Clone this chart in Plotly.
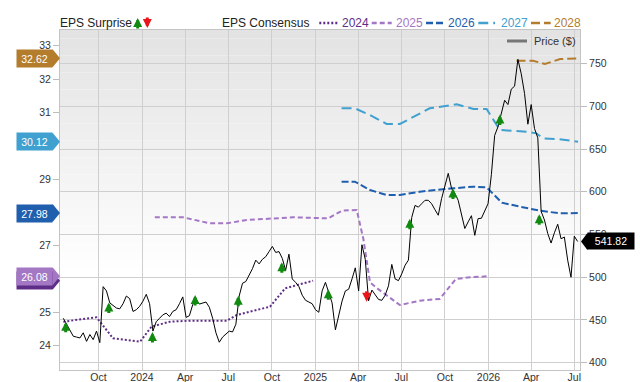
import plotly.graph_objects as go
import pandas as pd

# ---------------- data ----------------
price_start = "2023-07-19"  # weekly closes
price = [452,445,439,431,430,429,435,425,433,427,
         437,423.5,489,484,470,467,464,463,469,478,
         475,460,462,466,472,480,469,437,448,452,
         456,458,454,460,462,469,477,453,455,468,
         474,468.6,470,471,465,452,435,424,430,434,
         437,436,445,478,493,495,502,510,520,515.6,
         521,524,530,536,529,530,522,508,527,498,
         494,489,479,473,471,469,462,459,484,494,
         482,470,438.5,455,472,484,486,498,511,484,
         538,521,472.5,485,479,474,473,479,490,515,
         498,496,504,514,520,570,584,582,586,590,
         590,586,579,572.5,592,608,621.5,604,598,590,
         575,557,564.7,572,549,568.6,569,578,586,620,
         666,676,690,707,702,720,723.5,754.9,738,715,
         679,702,674,663,577,567,551,540,552,562,
         545,547,520,500,548,541.82]
price_dates = pd.date_range(price_start, periods=len(price), freq="7D")

eps2024_dates = ["2023-07-19","2023-09-27","2023-11-01","2023-12-28","2024-01-21","2024-02-29",
                 "2024-04-11","2024-06-28","2024-07-19","2024-09-27","2024-10-29","2024-11-26","2024-12-27"]
eps2024 = [24.72,24.85,24.22,24.12,24.57,24.72,24.75,24.75,24.92,25.17,25.72,25.82,25.95]

eps2025_dates = ["2024-01-28","2024-03-28","2024-05-23","2024-06-28","2024-08-09","2024-11-15",
                 "2025-01-28","2025-02-26","2025-03-29","2025-04-12","2025-04-26","2025-05-11",
                 "2025-06-28","2025-08-09","2025-09-20","2025-10-24","2025-11-23","2025-12-29"]
eps2025 = [27.85,27.85,27.67,27.67,27.77,27.85,27.82,28.05,28.07,27.2,25.9,25.72,
           25.22,25.35,25.40,26.0,26.05,26.08]

eps2026_dates = ["2025-02-25","2025-03-25","2025-04-26","2025-05-31","2025-06-28","2025-08-09",
                 "2025-10-18","2025-11-30","2025-12-28","2026-01-29","2026-03-08","2026-04-19",
                 "2026-06-01","2026-07-09"]
eps2026 = [28.92,28.92,28.67,28.52,28.52,28.62,28.72,28.77,28.75,28.29,28.17,28.05,27.97,27.98]

eps2027_dates = ["2025-02-25","2025-03-25","2025-04-26","2025-05-31","2025-06-28","2025-08-30",
                 "2025-10-26","2025-11-30","2025-12-28","2026-01-25","2026-03-22","2026-04-12",
                 "2026-04-26","2026-05-25","2026-07-09"]
eps2027 = [31.12,31.12,30.92,30.65,30.65,31.12,31.24,31.10,31.10,30.47,30.42,30.37,30.22,30.20,30.12]

eps2028_dates = ["2026-03-01","2026-04-05","2026-04-30","2026-06-01","2026-07-09"]
eps2028 = [32.55,32.55,32.45,32.60,32.62]

surprise_dates = ["2023-07-24","2023-10-23","2024-01-23","2024-04-22","2024-07-22","2024-10-22",
                  "2025-01-28","2025-04-19","2025-07-19","2025-10-18","2026-01-25","2026-04-18"]
surprise_price = [442,464.7,430.2,473.3,472.6,511.8,480,477.3,562.7,598,684.4,567.9]
surprise_dir = ["up","up","up","up","up","up","up","down","up","up","up","up"]

x_tickvals = ["2023-10-01","2024-01-01","2024-04-01","2024-07-01","2024-10-01","2025-01-01",
              "2025-04-01","2025-07-01","2025-10-01","2026-01-01","2026-04-01","2026-07-01"]
x_ticktext = ["Oct","2024","Apr","Jul","Oct","2025","Apr","Jul","Oct","2026","Apr","Jul"]
left_ticks = [24,25,27,29,31,32,33]
right_ticks = [400,450,500,550,600,650,700,750]

series_names = ["2024","2025","2026","2027","2028"]
series_colors = ["#5e2d88","#a477c4","#1f5fae","#40a0d0","#b47c2d"]
series_dash = ["2px,2px","5px,3px","7px,3px","10px,5px","9px,4px"]

# ---------------- layout helpers ----------------
W, H = 640, 382
ML, MR, MT, MB = 60, 60, 30, 12
PW, PH = W - ML - MR, H - MT - MB
def px(x):
    return (x - ML) / PW
def py(y):
    return (H - MB - y) / PH

FONT = "Liberation Sans, Arial, sans-serif"
GREEN, RED = "#128a12", "#e8161b"
ARW = dict(arrowhead=2, arrowsize=0.6, arrowwidth=3, standoff=0, text="", showarrow=True,
           font=dict(size=1), borderpad=0)
fig = go.Figure()

eps_sets = [(eps2024_dates, eps2024), (eps2025_dates, eps2025), (eps2026_dates, eps2026),
            (eps2027_dates, eps2027), (eps2028_dates, eps2028)]
for (d, v), name, col, dash in zip(eps_sets, series_names, series_colors, series_dash):
    fig.add_trace(go.Scatter(x=d, y=v, mode="lines", name=name, yaxis="y",
                             line=dict(color=col, width=2, dash=dash), hoverinfo="skip",
                             showlegend=False))

fig.add_trace(go.Scatter(x=price_dates, y=price, mode="lines", yaxis="y2", name="Price ($)",
                         line=dict(color="#000000", width=1), showlegend=False, hoverinfo="skip"))

shapes = []
annotations = []

# gradient background of the plot area
N = 40
for k in range(N):
    t = (k + 0.5) / N
    f = min(1.0, t / 0.72)
    c = int(round(0xe3 + (0xff - 0xe3) * f))
    shapes.append(dict(type="rect", xref="x domain", yref="y domain", x0=0, x1=1,
                       y0=1 - (k + 1) / N, y1=1 - k / N, fillcolor=f"rgb({c},{c},{c})",
                       line=dict(width=0), layer="below"))

# surprise arrows
for d, p, s in zip(surprise_dates, surprise_price, surprise_dir):
    up = s == "up"
    annotations.append(dict(x=d, y=p, xref="x", yref="y2", arrowcolor=GREEN if up else RED,
                            ax=0, ay=11 if up else -11, yshift=5 if up else -5, **ARW))

# left value labels (last EPS values)
for i in range(len(eps_sets)):
    v = eps_sets[i][1][-1]
    shapes.append(dict(type="path", xref="paper", yref="y", xsizemode="pixel", ysizemode="pixel",
                       xanchor=0, yanchor=v,
                       path="M -8,-8.5 L -7,-8.5 L 0,0 L -7,8.5 L -8,8.5 Z",
                       fillcolor=series_colors[i], line=dict(width=0), layer="above"))
    annotations.append(dict(x=0, y=v, xref="paper", yref="y", text=f"{v:.2f}", showarrow=False,
                            xanchor="right", yanchor="middle", xshift=-7, width=35, height=17,
                            borderpad=0, bgcolor=series_colors[i], align="center",
                            font=dict(family=FONT, size=10.5, color="white")))

# right price label
pv = price[-1]
shapes.append(dict(type="path", xref="paper", yref="y2", xsizemode="pixel", ysizemode="pixel",
                   xanchor=1, yanchor=pv,
                   path="M 1,0 L 7,-8 L 8,-8 L 8,8 L 7,8 Z",
                   fillcolor="#000000", line=dict(width=0), layer="above"))
annotations.append(dict(x=1, y=pv, xref="paper", yref="y2", text=f"{pv:.2f}", showarrow=False,
                        xanchor="left", yanchor="middle", xshift=7, width=46, height=16,
                        borderpad=0, bgcolor="#000000", align="center",
                        font=dict(family=FONT, size=10.5, color="white")))

# price legend (inside, top right)
shapes.append(dict(type="line", xref="paper", yref="paper", x0=px(507), x1=px(527),
                   y0=py(41), y1=py(41), line=dict(color="#777777", width=3), layer="above"))
annotations.append(dict(x=px(532), y=py(41), xref="paper", yref="paper", text="Price ($)",
                        showarrow=False, xanchor="left", yanchor="middle",
                        font=dict(family=FONT, size=11, color="#333333")))

# top legend
LY = py(23)
annotations.append(dict(x=px(60), y=LY, xref="paper", yref="paper", text="EPS Surprise",
                        showarrow=False, xanchor="left", yanchor="middle", xshift=-2,
                        font=dict(family=FONT, size=12, color="#222222")))
annotations.append(dict(x=px(137.7), y=LY, xref="paper", yref="paper", arrowcolor=GREEN,
                        ax=0, ay=11, yshift=5, **ARW))
annotations.append(dict(x=px(147.3), y=LY, xref="paper", yref="paper", arrowcolor=RED,
                        ax=0, ay=-11, yshift=-5, **ARW))
annotations.append(dict(x=px(221.7), y=LY, xref="paper", yref="paper", text="EPS Consensus",
                        showarrow=False, xanchor="left", yanchor="middle", xshift=-2,
                        font=dict(family=FONT, size=12, color="#222222")))
sample_x = [(319.3, 337.3, 341.7), (371.7, 391.7, 395.7), (426, 445, 448.3),
            (478.3, 495, 500.7), (531, 550.7, 554)]
for (x0, x1, xt), name, col, dash in zip(sample_x, series_names, series_colors, series_dash):
    shapes.append(dict(type="line", xref="paper", yref="paper", x0=px(x0), x1=px(x1),
                       y0=LY, y1=LY, line=dict(color=col, width=2.5, dash=dash)))
    annotations.append(dict(x=px(xt), y=LY, xref="paper", yref="paper", text=name,
                            showarrow=False, xanchor="left", yanchor="middle", xshift=-2,
                            font=dict(family=FONT, size=12, color=col)))

fig.update_layout(
    width=W, height=H,
    margin=dict(l=ML, r=MR, t=MT, b=MB, pad=0, autoexpand=False),
    paper_bgcolor="white", plot_bgcolor="rgba(0,0,0,0)",
    font=dict(family=FONT, size=10.5, color="#333333"),
    showlegend=False,
    xaxis=dict(type="date", range=["2023-07-12", "2026-07-13"], tickvals=x_tickvals,
               ticktext=x_ticktext, showgrid=True, gridcolor="#cfcfcf", gridwidth=1,
               showline=True, linecolor="#c4c4c4", linewidth=1, mirror=True, automargin=False,
               ticks="", zeroline=False, ticklabelstandoff=-3,
               tickfont=dict(size=10.5, color="#333333")),
    yaxis=dict(range=[23.27, 33.47], tickvals=left_ticks, showgrid=False, zeroline=False,
               ticks="outside", ticklen=6, tickcolor="#bdbdbd", showline=True, automargin=False,
               linecolor="#c4c4c4", linewidth=1, tickfont=dict(size=10.5, color="#333333")),
    yaxis2=dict(range=[391.5, 789.2], overlaying="y", side="right", tickvals=right_ticks,
                showgrid=True, gridcolor="#cfcfcf", gridwidth=1, zeroline=False, automargin=False,
                ticks="outside", ticklen=6, tickcolor="#bdbdbd", showline=True,
                linecolor="#c4c4c4", linewidth=1, tickfont=dict(size=10.5, color="#333333")),
    shapes=shapes,
    annotations=annotations,
)

fig.write_html("out.html")
